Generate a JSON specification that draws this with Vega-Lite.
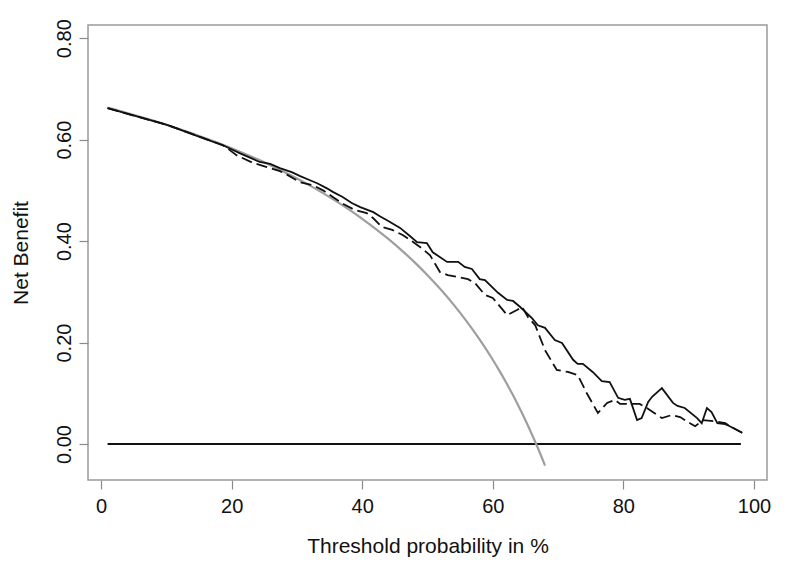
{
  "$schema": "https://vega.github.io/schema/vega-lite/v6.json",
  "width": 679,
  "height": 455,
  "autosize": {"type": "none"},
  "padding": {"left": 88, "top": 25, "right": 21, "bottom": 87},
  "background": "white",
  "config": {
    "view": {"stroke": "#9a9a9a", "strokeWidth": 1.5},
    "font": "Liberation Sans",
    "axis": {
      "grid": false,
      "domain": false,
      "tickColor": "#8a8a8a",
      "tickWidth": 1.2,
      "tickSize": 9,
      "labelFont": "Liberation Sans",
      "labelFontSize": 20,
      "labelColor": "#111111",
      "titleFont": "Liberation Sans",
      "titleFontSize": 21,
      "titleFontWeight": "normal",
      "titleColor": "#111111"
    }
  },
  "datasets": {
    "none": [
      {"t": 1, "nb": 0},
      {"t": 98, "nb": 0}
    ],
    "all": [
      {"t": 1, "nb": 0.663}, {"t": 2, "nb": 0.6596}, {"t": 4, "nb": 0.6525}, {"t": 6, "nb": 0.6451},
      {"t": 8, "nb": 0.6374}, {"t": 10, "nb": 0.6293}, {"t": 12, "nb": 0.6209}, {"t": 14, "nb": 0.6121},
      {"t": 16, "nb": 0.6029}, {"t": 18, "nb": 0.5932}, {"t": 20, "nb": 0.583}, {"t": 22, "nb": 0.5723},
      {"t": 24, "nb": 0.5611}, {"t": 26, "nb": 0.5492}, {"t": 28, "nb": 0.5367}, {"t": 30, "nb": 0.5234},
      {"t": 32, "nb": 0.5094}, {"t": 34, "nb": 0.4946}, {"t": 36, "nb": 0.4788}, {"t": 38, "nb": 0.4619},
      {"t": 40, "nb": 0.444}, {"t": 42, "nb": 0.4248}, {"t": 44, "nb": 0.4043}, {"t": 46, "nb": 0.3822},
      {"t": 48, "nb": 0.3585}, {"t": 50, "nb": 0.3328}, {"t": 52, "nb": 0.305}, {"t": 54, "nb": 0.2748},
      {"t": 56, "nb": 0.2418}, {"t": 58, "nb": 0.2057}, {"t": 60, "nb": 0.166}, {"t": 61, "nb": 0.1446},
      {"t": 62, "nb": 0.1221}, {"t": 63, "nb": 0.0984}, {"t": 64, "nb": 0.0733}, {"t": 65, "nb": 0.0469},
      {"t": 66, "nb": 0.0188}, {"t": 67, "nb": -0.0109}, {"t": 68, "nb": -0.0425}
    ],
    "dashed": [
      {"t": 1, "nb": 0.662}, {"t": 10.1, "nb": 0.629}, {"t": 18.7, "nb": 0.589}, {"t": 20.8, "nb": 0.569},
      {"t": 23.3, "nb": 0.554}, {"t": 25.4, "nb": 0.546}, {"t": 27.4, "nb": 0.538}, {"t": 28.6, "nb": 0.53},
      {"t": 30.5, "nb": 0.516}, {"t": 32.5, "nb": 0.51}, {"t": 34.0, "nb": 0.5}, {"t": 35.5, "nb": 0.487},
      {"t": 37.1, "nb": 0.473}, {"t": 38.9, "nb": 0.461}, {"t": 40.7, "nb": 0.455}, {"t": 41.7, "nb": 0.445},
      {"t": 43.0, "nb": 0.428}, {"t": 44.6, "nb": 0.422}, {"t": 46.2, "nb": 0.412}, {"t": 47.8, "nb": 0.398},
      {"t": 48.9, "nb": 0.388}, {"t": 50.4, "nb": 0.372}, {"t": 51.9, "nb": 0.339}, {"t": 53.1, "nb": 0.333},
      {"t": 56.2, "nb": 0.325}, {"t": 57.3, "nb": 0.317}, {"t": 58.8, "nb": 0.294}, {"t": 60.0, "nb": 0.288},
      {"t": 62.2, "nb": 0.254}, {"t": 63.7, "nb": 0.264}, {"t": 64.5, "nb": 0.27}, {"t": 65.4, "nb": 0.25},
      {"t": 66.5, "nb": 0.234}, {"t": 68.0, "nb": 0.185}, {"t": 69.8, "nb": 0.146}, {"t": 71.5, "nb": 0.142},
      {"t": 73.0, "nb": 0.136}, {"t": 74.4, "nb": 0.1}, {"t": 76.1, "nb": 0.061}, {"t": 77.5, "nb": 0.081},
      {"t": 78.7, "nb": 0.087}, {"t": 79.5, "nb": 0.079}, {"t": 81.0, "nb": 0.079}, {"t": 82.5, "nb": 0.079},
      {"t": 83.6, "nb": 0.071}, {"t": 84.5, "nb": 0.063}, {"t": 85.9, "nb": 0.051}, {"t": 87.4, "nb": 0.057},
      {"t": 88.7, "nb": 0.053}, {"t": 90.2, "nb": 0.041}, {"t": 91.0, "nb": 0.035}, {"t": 92.2, "nb": 0.047},
      {"t": 94.0, "nb": 0.045}, {"t": 95.6, "nb": 0.041}, {"t": 96.6, "nb": 0.033}, {"t": 98.2, "nb": 0.022}
    ],
    "solid": [
      {"t": 1, "nb": 0.662}, {"t": 10.1, "nb": 0.629}, {"t": 15.2, "nb": 0.605}, {"t": 19.0, "nb": 0.587},
      {"t": 21.3, "nb": 0.573}, {"t": 24.3, "nb": 0.556}, {"t": 25.9, "nb": 0.552}, {"t": 27.4, "nb": 0.544},
      {"t": 29.2, "nb": 0.536}, {"t": 30.5, "nb": 0.528}, {"t": 32.0, "nb": 0.52}, {"t": 33.1, "nb": 0.514},
      {"t": 34.6, "nb": 0.504}, {"t": 35.5, "nb": 0.497}, {"t": 37.0, "nb": 0.487}, {"t": 38.4, "nb": 0.475},
      {"t": 39.7, "nb": 0.467}, {"t": 41.7, "nb": 0.457}, {"t": 42.7, "nb": 0.449}, {"t": 43.8, "nb": 0.441},
      {"t": 45.8, "nb": 0.426}, {"t": 47.3, "nb": 0.41}, {"t": 48.4, "nb": 0.398}, {"t": 49.9, "nb": 0.396},
      {"t": 50.8, "nb": 0.378}, {"t": 53.0, "nb": 0.359}, {"t": 54.7, "nb": 0.359}, {"t": 55.7, "nb": 0.349},
      {"t": 56.8, "nb": 0.345}, {"t": 58.0, "nb": 0.325}, {"t": 58.8, "nb": 0.323}, {"t": 60.8, "nb": 0.298},
      {"t": 62.2, "nb": 0.284}, {"t": 63.1, "nb": 0.282}, {"t": 64.2, "nb": 0.27}, {"t": 66.0, "nb": 0.248},
      {"t": 66.9, "nb": 0.234}, {"t": 68.0, "nb": 0.229}, {"t": 69.5, "nb": 0.205}, {"t": 70.6, "nb": 0.199},
      {"t": 72.3, "nb": 0.166}, {"t": 73.0, "nb": 0.158}, {"t": 73.8, "nb": 0.158}, {"t": 75.3, "nb": 0.142},
      {"t": 76.7, "nb": 0.124}, {"t": 77.9, "nb": 0.122}, {"t": 79.2, "nb": 0.091}, {"t": 80.2, "nb": 0.087},
      {"t": 81.0, "nb": 0.089}, {"t": 82.1, "nb": 0.047}, {"t": 82.8, "nb": 0.051}, {"t": 83.8, "nb": 0.083},
      {"t": 84.4, "nb": 0.093}, {"t": 85.9, "nb": 0.11}, {"t": 87.6, "nb": 0.081}, {"t": 88.3, "nb": 0.075},
      {"t": 89.4, "nb": 0.071}, {"t": 91.3, "nb": 0.051}, {"t": 92.0, "nb": 0.041}, {"t": 92.8, "nb": 0.071},
      {"t": 93.5, "nb": 0.063}, {"t": 94.4, "nb": 0.041}, {"t": 95.6, "nb": 0.039}, {"t": 96.3, "nb": 0.035},
      {"t": 98.2, "nb": 0.022}
    ]
  },
  "encoding": {
    "x": {
      "field": "t",
      "type": "quantitative",
      "scale": {"domain": [-2, 102], "nice": false, "zero": false},
      "axis": {
        "title": "Threshold probability in %",
        "values": [0, 20, 40, 60, 80, 100],
        "labelFlush": false,
        "labelPadding": 7,
        "titlePadding": 19
      }
    },
    "y": {
      "field": "nb",
      "type": "quantitative",
      "scale": {"domain": [-0.071, 0.826], "nice": false, "zero": false},
      "axis": {
        "title": "Net Benefit",
        "values": [0, 0.2, 0.4, 0.6, 0.8],
        "format": ".2f",
        "labelAngle": -90,
        "labelAlign": "center",
        "labelBaseline": "bottom",
        "labelPadding": 5,
        "titlePadding": 23
      }
    }
  },
  "layer": [
    {
      "data": {"name": "none"},
      "mark": {"type": "line", "color": "#111111", "strokeWidth": 2}
    },
    {
      "data": {"name": "all"},
      "mark": {"type": "line", "color": "#9e9e9e", "strokeWidth": 2.2, "interpolate": "monotone"}
    },
    {
      "data": {"name": "dashed"},
      "mark": {"type": "line", "color": "#111111", "strokeWidth": 1.8, "strokeDash": [11, 5]}
    },
    {
      "data": {"name": "solid"},
      "mark": {"type": "line", "color": "#111111", "strokeWidth": 1.8}
    }
  ]
}
